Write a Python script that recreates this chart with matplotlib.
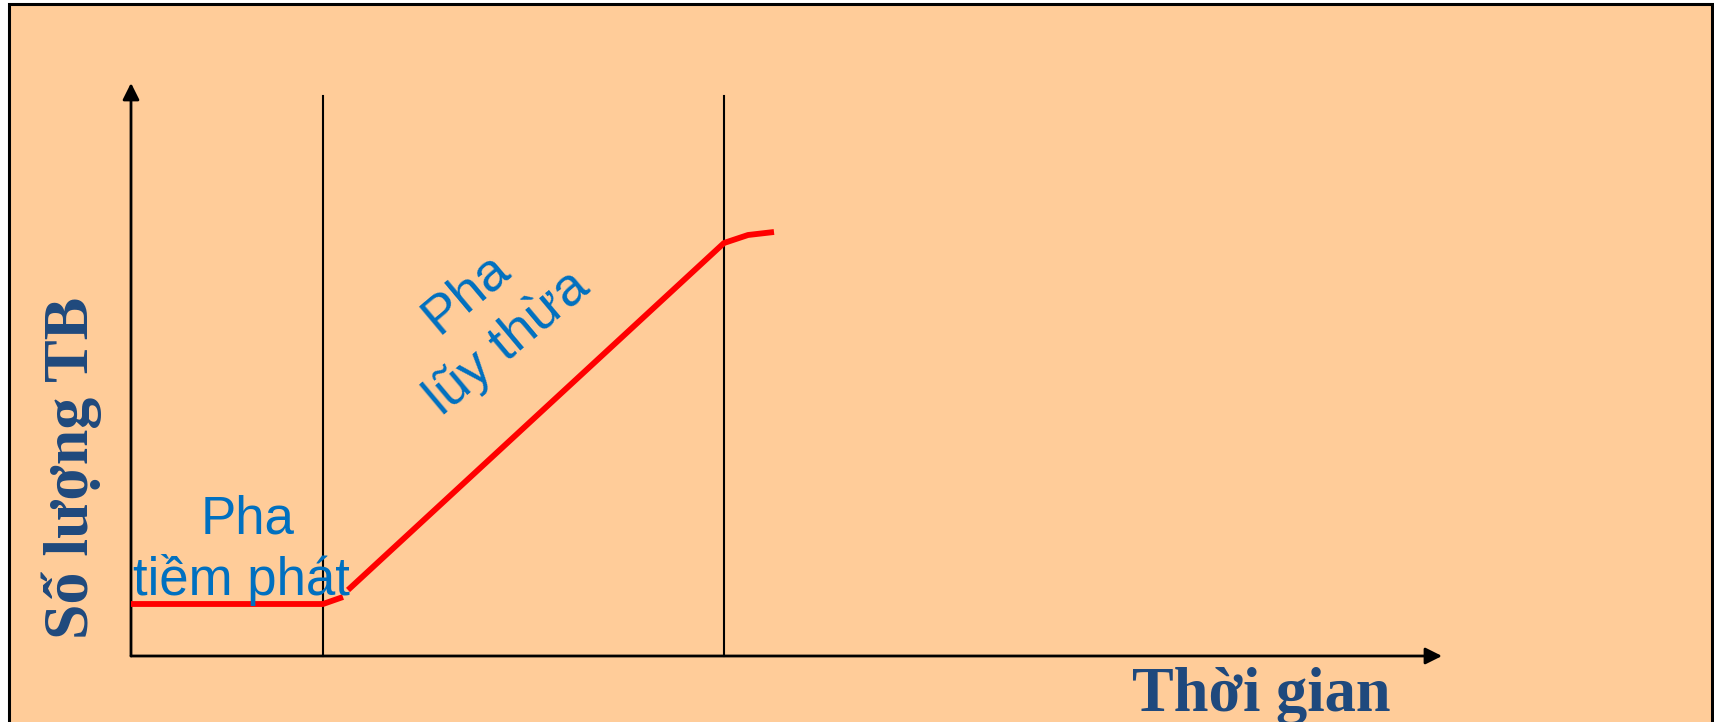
import matplotlib
matplotlib.use("Agg")
import matplotlib.pyplot as plt
from matplotlib.patches import Rectangle

# Bacterial growth curve: lag phase then exponential phase
lag_t = [0.0, 19.2, 21.2]
lag_n = [5.2, 5.2, 5.9]
log_t = [21.7, 59.3, 61.7, 64.3]
log_n = [6.6, 41.3, 42.1, 42.4]
phase_bounds = [19.2, 59.3]
phase_top = 56.0
x_axis_end = 131.1
y_axis_end = 57.3

x_label = "Thời gian"
y_label = "Số lượng TB"
lag_label = ["Pha", "tiềm phát"]
log_label = "Pha\nlũy thừa"

W, H = 1715, 722
fig = plt.figure(figsize=(W / 100, H / 100), dpi=100)
fig.patch.set_facecolor("white")

ax = fig.add_axes([0, 0, 1, 1])
ax.set_facecolor("none")
ax.axis("off")
ax.set_xlim(-13.1, 158.4)
ax.set_ylim(-6.6, 65.6)

# Peach slide panel with black border
panel = Rectangle((9 / W, -0.05), (1712 - 9) / W, 1.05 - 3.5 / H,
                  transform=fig.transFigure, facecolor="#FFCC99",
                  edgecolor="black", lw=2.2, zorder=0, clip_on=False)
ax.add_patch(panel)

# Axes with arrow heads
arrow = dict(arrowstyle="-|>", lw=2.0, color="black", mutation_scale=25,
             shrinkA=0, shrinkB=0)
ax.annotate("", xy=(0, y_axis_end), xytext=(0, 0), arrowprops=arrow)
ax.annotate("", xy=(x_axis_end, 0), xytext=(0, 0), arrowprops=arrow)

# Phase boundaries
for xb in phase_bounds:
    ax.plot([xb, xb], [0, phase_top], color="black", lw=1.5)

# Growth curve
ax.plot(lag_t, lag_n, color="#FF0000", lw=4.2, solid_capstyle="butt",
        solid_joinstyle="round", zorder=3)
ax.plot(log_t, log_n, color="#FF0000", lw=4.2, solid_capstyle="butt",
        solid_joinstyle="round", zorder=3)

blue = "#0070C0"
sans = ["Liberation Sans", "DejaVu Sans"]
serif = ["Liberation Serif", "DejaVu Serif"]
navy = "#1F497D"

ax.text(11.7, (656 - 533) / 10, lag_label[0], color=blue, fontsize=38,
        family=sans, ha="center", va="baseline", zorder=4)
ax.text(11.0, (656 - 595) / 10, lag_label[1], color=blue, fontsize=38,
        family=sans, ha="center", va="baseline", zorder=4)

ax.text(35.6, 33.8, log_label, color=blue, fontsize=39, family=sans,
        ha="center", va="center", rotation=40, rotation_mode="anchor",
        multialignment="center", linespacing=1.38, zorder=4)

ax.text(-4.3, 18.8, y_label, color=navy, fontsize=46, family=serif,
        fontweight="bold", rotation=90, rotation_mode="anchor",
        ha="center", va="baseline")
ax.text(113.0, -5.5, x_label, color=navy, fontsize=45, family=serif,
        fontweight="bold", ha="center", va="baseline")

fig.savefig("out.png", dpi=100)
